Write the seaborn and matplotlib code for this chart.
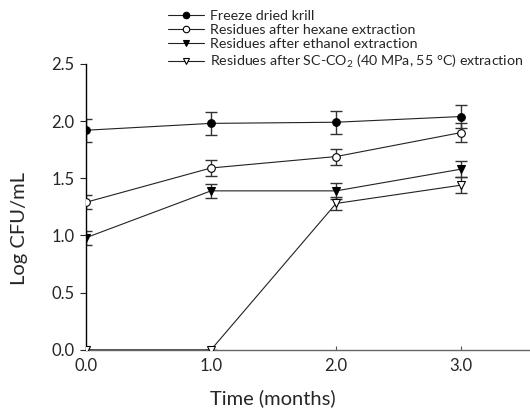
import matplotlib
matplotlib.use("Agg")
import matplotlib.pyplot as plt
import seaborn as sns

# storage time (months)
months = [0.0, 1.0, 2.0, 3.0]

krill = [1.92, 1.98, 1.99, 2.04]
krill_err = [0.10, 0.10, 0.10, 0.10]
hexane = [1.29, 1.59, 1.69, 1.90]
hexane_err = [0.06, 0.07, 0.07, 0.08]
ethanol = [0.98, 1.39, 1.39, 1.58]
ethanol_err = [0.06, 0.06, 0.07, 0.07]
sc_co2 = [0.0, 0.0, 1.28, 1.44]
sc_co2_err = [0.0, 0.0, 0.06, 0.07]

labels = [
    "Freeze dried krill",
    "Residues after hexane extraction",
    "Residues after ethanol extraction",
    "Residues after SC-CO$_2$ (40 MPa, 55 \u00b0C) extraction",
]

sns.set_style("ticks")
plt.rcParams["font.family"] = ["Lato", "DejaVu Sans"]
plt.rcParams["mathtext.default"] = "regular"

fig = plt.figure(figsize=(5.3, 4.15), dpi=100)
ax = fig.add_axes([0.162, 0.157, 0.838, 0.689])

series = [
    (krill, krill_err, "o", "black"),
    (hexane, hexane_err, "o", "white"),
    (ethanol, ethanol_err, "v", "black"),
    (sc_co2, sc_co2_err, "v", "white"),
]

for (vals, errs, mk, fc), lab in zip(series, labels):
    ax.errorbar(months, vals, yerr=errs, fmt="none", ecolor="#333333",
                elinewidth=1.0, capsize=4, capthick=1.0, zorder=2)
    sns.lineplot(x=months, y=vals, ax=ax, color="#222222", linewidth=0.8,
                 marker=mk, markersize=5.5, markerfacecolor=fc,
                 markeredgecolor="black", markeredgewidth=0.8,
                 label=lab, zorder=3)

ax.set_xlim(0, 3.55)
ax.set_ylim(0, 2.5)
ax.set_xticks(months)
ax.set_xticklabels(["0.0", "1.0", "2.0", "3.0"])
ax.set_yticks([0.0, 0.5, 1.0, 1.5, 2.0, 2.5])
ax.set_yticklabels(["0.0", "0.5", "1.0", "1.5", "2.0", "2.5"])
ax.tick_params(axis="x", direction="in", length=3, labelsize=12, pad=6,
               color="#555555")
ax.tick_params(axis="y", direction="out", length=4, labelsize=12, pad=4)
ax.set_xlabel("Time (months)", fontsize=14.5)
ax.set_ylabel("Log CFU/mL", fontsize=14.5)
ax.xaxis.set_label_coords(0.42, -0.168)
ax.yaxis.set_label_coords(-0.149, 0.423)
ax.xaxis.label.set_verticalalignment("center")
ax.yaxis.label.set_verticalalignment("center")

sns.despine(ax=ax)
ax.spines["left"].set_color("black")
ax.spines["left"].set_linewidth(1.0)
ax.spines["bottom"].set_color("#666666")
ax.spines["bottom"].set_linewidth(1.0)

ax.legend(loc="upper left", bbox_to_anchor=(0.172, 1.21), frameon=False,
          fontsize=10.3, handlelength=2.5, handletextpad=0.45,
          labelspacing=0.17, borderaxespad=0, markerscale=0.85)

fig.savefig("out.png", dpi=100)
